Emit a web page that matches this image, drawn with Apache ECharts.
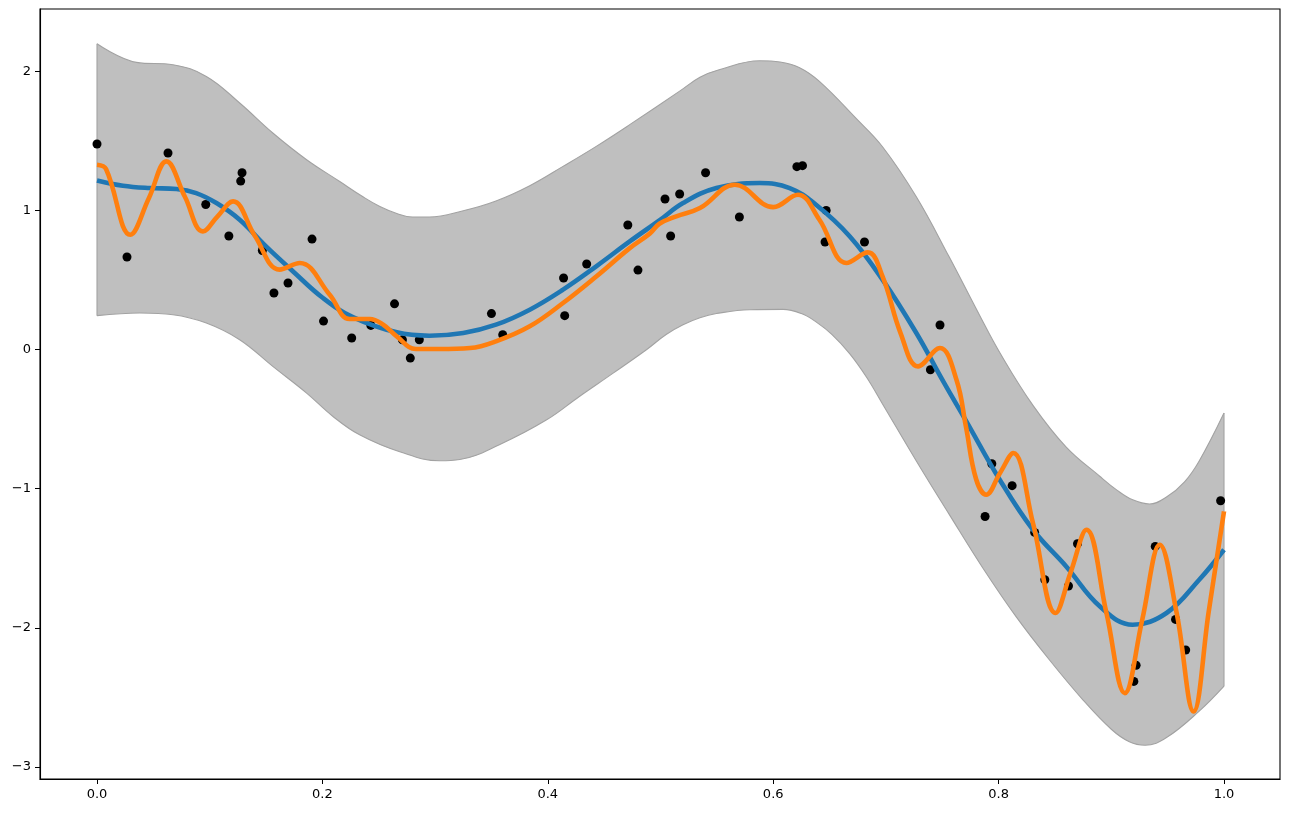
<!DOCTYPE html>
<html>
<head>
<meta charset="utf-8">
<script src="https://cdn.jsdelivr.net/npm/echarts@6/dist/echarts.min.js"></script>
<style>
html,body{margin:0;padding:0;background:#fff;}
#chart{width:1290px;height:813px;}
</style>
</head>
<body>
<div id="chart"></div>
<script>
//观测点
var pointX = [0.0, 0.0266, 0.063, 0.0965, 0.117, 0.1275, 0.1287, 0.1467, 0.157, 0.1695,
	0.1908, 0.201, 0.226, 0.243, 0.264, 0.271, 0.278, 0.286, 0.350, 0.360,
	0.414, 0.415, 0.4345, 0.471, 0.480, 0.504, 0.509, 0.517, 0.540, 0.570,
	0.621, 0.626, 0.646, 0.647, 0.681, 0.7395, 0.748, 0.788, 0.794, 0.812,
	0.832, 0.841, 0.862, 0.870, 0.920, 0.922, 0.939, 0.957, 0.966, 0.997];
var pointY = [1.48, 0.667, 1.415, 1.045, 0.818, 1.213, 1.273, 0.714, 0.408, 0.48,
	0.796, 0.206, 0.084, 0.175, 0.33, 0.072, -0.06, 0.072, 0.26, 0.108,
	0.516, 0.245, 0.617, 0.897, 0.573, 1.084, 0.818, 1.12, 1.273, 0.955,
	1.317, 1.324, 0.775, 1.002, 0.775, -0.144, 0.178, -1.20, -0.82, -0.978,
	-1.314, -1.655, -1.70, -1.396, -2.386, -2.27, -1.415, -1.94, -2.16, -1.086];

//均值曲线（蓝）
var meanX = [0, 0.023, 0.0468, 0.0705, 0.088, 0.106, 0.1266, 0.150, 0.174, 0.2005,
	0.227, 0.266, 0.295, 0.325, 0.354, 0.384, 0.4135, 0.443, 0.4727, 0.499,
	0.520, 0.5496, 0.588, 0.6146, 0.638, 0.668, 0.697, 0.727, 0.751, 0.771,
	0.801, 0.8305, 0.860, 0.890, 0.919, 0.949, 0.978, 1.0];
var meanY = [1.218, 1.18, 1.163, 1.156, 1.127, 1.055, 0.935, 0.743, 0.563, 0.372,
	0.235, 0.125, 0.101, 0.120, 0.18, 0.288, 0.432, 0.60, 0.779, 0.93,
	1.055, 1.163, 1.199, 1.163, 1.043, 0.815, 0.504, 0.12, -0.23, -0.51,
	-0.935, -1.295, -1.559, -1.847, -1.978, -1.894, -1.655, -1.439];

//过拟合曲线（橙）
var fitX = [0, 0.008, 0.0296, 0.046, 0.0616, 0.078, 0.094, 0.107, 0.1207, 0.14,
	0.162, 0.18, 0.2065, 0.224, 0.242, 0.254, 0.266, 0.283, 0.304, 0.331,
	0.354, 0.384, 0.4135, 0.443, 0.4727, 0.4904, 0.499, 0.514, 0.535, 0.566,
	0.600, 0.622, 0.641, 0.665, 0.684, 0.697, 0.713, 0.7285, 0.748, 0.7626,
	0.771, 0.78, 0.789, 0.801, 0.813, 0.8305, 0.8505, 0.864, 0.878, 0.8957,
	0.912, 0.9275, 0.943, 0.958, 0.973, 0.9865, 1.0];
var fitY = [1.33, 1.30, 0.827, 1.09, 1.355, 1.10, 0.851, 0.96, 1.067, 0.82,
	0.576, 0.624, 0.396, 0.221, 0.221, 0.18, 0.096, 0.005, 0.005, 0.012,
	0.06, 0.168, 0.336, 0.527, 0.731, 0.835, 0.906, 0.959, 1.019, 1.187,
	1.026, 1.115, 0.935, 0.624, 0.70, 0.527, 0.12, -0.12, 0.012, -0.216,
	-0.552, -0.93, -1.043, -0.89, -0.743, -1.247, -1.894, -1.60, -1.295, -1.894,
	-2.47, -1.94, -1.403, -1.894, -2.602, -1.88, -1.163];

//置信区间上沿
var upperX = [0, 0.035, 0.0674, 0.097, 0.1266, 0.156, 0.186, 0.2154, 0.236, 0.251,
	0.266, 0.280, 0.295, 0.325, 0.354, 0.384, 0.4135, 0.443, 0.4727, 0.517,
	0.535, 0.552, 0.588, 0.606, 0.623, 0.641, 0.674, 0.697, 0.727, 0.756,
	0.783, 0.801, 0.8305, 0.860, 0.8897, 0.905, 0.919, 0.934, 0.949, 0.965,
	0.978, 1.0];
var upperY = [2.201, 2.067, 2.050, 1.966, 1.775, 1.559, 1.367, 1.21, 1.10, 1.03,
	0.98, 0.955, 0.955, 1.00, 1.07, 1.18, 1.319, 1.463, 1.619, 1.86,
	1.96, 2.014, 2.079, 2.07, 2.03, 1.93, 1.66, 1.46, 1.10, 0.67,
	0.25, -0.02, -0.40, -0.70, -0.91, -1.01, -1.08, -1.11, -1.06, -0.95,
	-0.80, -0.455];

//置信区间下沿
var lowerX = [0, 0.038, 0.0674, 0.097, 0.1266, 0.156, 0.186, 0.2094, 0.233, 0.2686,
	0.304, 0.322, 0.357, 0.399, 0.428, 0.458, 0.4875, 0.505, 0.520, 0.535,
	0.5496, 0.579, 0.6087, 0.625, 0.638, 0.652, 0.668, 0.683, 0.697, 0.727,
	0.7566, 0.786, 0.8155, 0.845, 0.875, 0.900, 0.916, 0.930, 0.949, 0.978, 1.0];
var lowerY = [0.245, 0.264, 0.252, 0.192, 0.072, -0.120, -0.312, -0.480, -0.612, -0.734,
	-0.799, -0.79, -0.683, -0.504, -0.336, -0.168, 0, 0.11, 0.18, 0.23,
	0.26, 0.288, 0.29, 0.26, 0.20, 0.11, -0.03, -0.20, -0.39, -0.80,
	-1.19, -1.57, -1.92, -2.23, -2.52, -2.73, -2.82, -2.845, -2.79, -2.60, -2.42];

//刻度
var xTicks = [0, 0.2, 0.4, 0.6, 0.8, 1.0];
var yTicks = [-3, -2, -1, 0, 1, 2];

function zipXY(xs, ys){
	var out = [];
	for(var i = 0; i < xs.length; i++){
		out.push([xs[i], ys[i]]);
	}
	return out;
}

var nU = upperX.length - 1, nL = lowerX.length - 1;
var bandEdge = '#a2a2a2';
var labelFont = {color: '#000', fontSize: 13, fontFamily: 'DejaVu Sans'};

option = {
	backgroundColor: '#fff',
	animation: false,
	grid: {
		left: 40, right: 10, top: 9, bottom: 34, z: 10,
		show: true, borderColor: '#000', borderWidth: 1.1, backgroundColor: 'transparent'
	},
	xAxis: {
		type: 'value',
		z: 10,
		min: -57 / 1127, max: 1 + 56 / 1127,
		splitLine: {show: false},
		axisLine: {show: true, onZero: false, lineStyle: {color: '#000', width: 1.1}},
		axisTick: {show: true, inside: false, length: 5, customValues: xTicks, lineStyle: {color: '#000', width: 1}},
		axisLabel: Object.assign({
			margin: 9,
			customValues: xTicks,
			formatter: function(v){ return v.toFixed(1); }
		}, labelFont)
	},
	yAxis: {
		type: 'value',
		z: 10,
		min: -3.088, max: 2.451,
		splitLine: {show: false},
		axisLine: {show: true, onZero: false, lineStyle: {color: '#000', width: 1.1}},
		axisTick: {show: true, inside: false, length: 5, customValues: yTicks, lineStyle: {color: '#000', width: 1}},
		axisLabel: Object.assign({
			margin: 9,
			customValues: yTicks,
			formatter: function(v){ return v < 0 ? '\u2212' + Math.abs(v) : String(v); }
		}, labelFont)
	},
	series: [{
		//置信带：上沿向下填灰
		type: 'line',
		z: 1,
		smooth: 0.4,
		showSymbol: false,
		lineStyle: {color: bandEdge, width: 1.1},
		areaStyle: {color: '#bfbfbf', opacity: 1, origin: 'start'},
		data: zipXY(upperX, upperY)
	}, {
		//下沿向下填白
		type: 'line',
		z: 1,
		smooth: 0.4,
		showSymbol: false,
		lineStyle: {color: bandEdge, width: 1.1},
		areaStyle: {color: '#fff', opacity: 1, origin: 'start'},
		data: zipXY(lowerX, lowerY)
	}, {
		//左右两端竖边
		type: 'line',
		z: 1,
		showSymbol: false,
		lineStyle: {color: bandEdge, width: 1.1},
		data: [[lowerX[0], lowerY[0]], [upperX[0], upperY[0]]]
	}, {
		type: 'line',
		z: 1,
		showSymbol: false,
		lineStyle: {color: bandEdge, width: 1.1},
		data: [[lowerX[nL], lowerY[nL]], [upperX[nU], upperY[nU]]]
	}, {
		type: 'scatter',
		z: 2,
		symbolSize: 9,
		itemStyle: {color: '#000', opacity: 1},
		data: zipXY(pointX, pointY)
	}, {
		type: 'line',
		z: 3,
		smooth: 0.4,
		showSymbol: false,
		lineStyle: {color: '#1f77b4', width: 4.6},
		data: zipXY(meanX, meanY)
	}, {
		type: 'line',
		z: 4,
		smooth: 0.4,
		showSymbol: false,
		lineStyle: {color: '#ff7f0e', width: 4.6},
		data: zipXY(fitX, fitY)
	}]
};

var myChart = echarts.init(document.getElementById('chart'));
myChart.setOption(option, true);
</script>
</body>
</html>
